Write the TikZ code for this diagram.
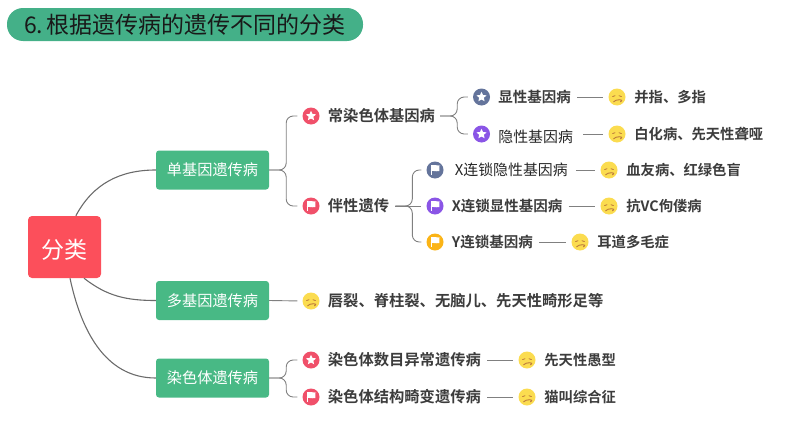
\documentclass[tikz,border=0pt]{standalone}
\usepackage{fontspec}
\usepackage{xcolor}
\usepackage{tikz}
\usetikzlibrary{positioning,shapes.geometric}
\setmainfont{Noto Sans CJK SC}
\newfontfamily\midfont{Noto Sans CJK SC Bold}
\definecolor{titlegreen}{HTML}{44B088}
\definecolor{boxgreen}{HTML}{48B985}
\definecolor{rootred}{HTML}{FC4F5B}
\definecolor{iconred}{HTML}{F0506A}
\definecolor{iconblue}{HTML}{64749B}
\definecolor{iconpurple}{HTML}{8A55E6}
\definecolor{iconamber}{HTML}{FBB416}
\definecolor{sadyellow}{HTML}{FBDC50}
\definecolor{sadbrown}{HTML}{BC7A3C}
\definecolor{inktext}{HTML}{3C3C3C}
\begin{document}
\begin{tikzpicture}[
  x=1pt, y=-1pt,
  titlebar/.style={rectangle, rounded corners=16pt, fill=titlegreen, minimum width=356pt, minimum height=33pt, inner sep=0pt, text=black!90, font=\fontsize{23}{26}\selectfont},
  rootbox/.style={rectangle, rounded corners=4pt, fill=rootred, minimum width=73pt, minimum height=62pt, inner sep=0pt, text=white, font=\fontsize{23}{26}\selectfont},
  catbox/.style={rectangle, rounded corners=3pt, fill=boxgreen, minimum width=113pt, minimum height=39pt, inner sep=0pt, text=white, font=\fontsize{15.2}{18}\selectfont},
  lbl/.style={inner sep=0pt, text=inktext, font=\fontsize{15.3}{18}\midfont},
  lblsub/.style={inner sep=0pt, text=inktext, font=\fontsize{14.5}{18}\midfont},
  lbldesc/.style={inner sep=0pt, text=inktext, font=\fontsize{14.3}{18}\midfont},
  lblthin/.style={inner sep=0pt, text=black!85, font=\fontsize{14.9}{18}\selectfont},
  ico/.style={circle, fill=#1, minimum size=17pt, inner sep=0pt},
  staricon/.style={ico=#1, path picture={
    \node[star, star points=5, star point ratio=2.1, fill=white, minimum size=10.5pt, inner sep=0pt] at (path picture bounding box.center) {};}},
  flagicon/.style={ico=#1, path picture={
    \fill[white] ([shift={(-4.2,-4.8)}]path picture bounding box.center) rectangle ++(1.2,10);
    \fill[white] ([shift={(-3.2,-4.8)}]path picture bounding box.center) .. controls ++(2.5,-0.8) and ++(4.5,1.2) .. ++(7.6,0.2) -- ++(0,5.6) .. controls ++(-3,1) and ++(-5,-1) .. ++(-7.6,-0.2) -- cycle;}},
  sadicon/.style={ico=sadyellow, path picture={
    \draw[sadbrown, line width=0.8pt, line cap=round] ([shift={(-4.4,-0.4)}]path picture bounding box.center) -- ++(2.4,-0.9);
    \draw[sadbrown, line width=0.8pt, line cap=round] ([shift={(4.4,-0.4)}]path picture bounding box.center) -- ++(-2.4,-0.9);
    \draw[sadbrown, line width=0.9pt, line cap=round] ([shift={(-3.4,4.8)}]path picture bounding box.center) .. controls ++(1.8,-2.8) and ++(5,-2.8) .. ++(6.8,0);}},
  rootlink/.style={draw=black!58, line width=1.1pt},
  lnk/.style={draw=black!50, line width=0.9pt},
  brk/.style={lnk, rounded corners=7pt, shorten >=5pt}
]
\useasboundingbox (0,0) rectangle (794,447);
\node[titlebar] (title) at (185,24.5) {6.\,根据遗传病的遗传不同的分类};
\node[rootbox] (root) at (64.5,247) {\raisebox{-11pt}[0pt][0pt]{分类}};

\node[catbox] (mono) at (212.5,170) {单基因遗传病};
\node[catbox] (poly) at (212.5,300.5) {多基因遗传病};
\node[catbox] (chrom) at (212.5,378) {染色体遗传病};
\draw[rootlink] (root.70) to[out=62,in=180] (mono.west);
\draw[rootlink] (root.-58) to[out=-38,in=180] (poly.west);
\draw[rootlink] (root.-80) to[out=-78,in=180] (chrom.west);

% single gene branch
\node[staricon=iconred] (auto) at (311,116) {};
\node[lbl, right=8pt of auto] (autot) {常染色体基因病};
\node[flagicon=iconred] (sex) at (311,206) {};
\node[lbl, right=8pt of sex] (sext) {伴性遗传};
\draw[brk] (mono.east) -- ++(17,0) |- (auto.west);
\draw[brk] (mono.east) -- ++(17,0) |- (sex.west);

\node[staricon=iconblue] (dom) at (481.5,97) {};
\node[lblsub, right=8pt of dom] (domt) {显性基因病};
\node[staricon=iconpurple] (rec) at (481.5,134) {};
\node[lblthin, right=8pt of rec, yshift=-3pt] (rect) {隐性基因病};
\draw[brk] (autot.east) ++(5,0) -- ++(17,0) |- (dom.west);
\draw[brk] (autot.east) ++(5,0) -- ++(17,0) |- (rec.west);

\node[sadicon] (doms) at (617,97) {};
\node[lbldesc, right=8.5pt of doms] (domd) {并指、多指};
\node[sadicon] (recs) at (617,134) {};
\node[lbldesc, right=8.5pt of recs] (recd) {白化病、先天性聋哑};
\draw[lnk, shorten <=6pt, shorten >=5pt] (domt.east) -- (doms.west);
\draw[lnk, shorten >=5pt] (recs.west) ++(-25,0) -- (recs.west);

% sex linked branch
\node[flagicon=iconblue] (xr) at (435,170) {};
\node[lblthin, right=11pt of xr] (xrt) {X连锁隐性基因病};
\node[flagicon=iconpurple] (xd) at (435,206) {};
\node[lblsub, right=8pt of xd] (xdt) {X连锁显性基因病};
\node[flagicon=iconamber] (yl) at (435,242) {};
\node[lblsub, right=8pt of yl] (ylt) {Y连锁基因病};
\draw[brk] (sext.east) ++(6,0) -- ++(17,0) |- (xr.west);
\draw[lnk, shorten >=5pt, shorten <=6pt] (sext.east) -- (xd.west);
\draw[brk] (sext.east) ++(6,0) -- ++(17,0) |- (yl.west);

\node[sadicon] (xrs) at (609,170) {};
\node[lbldesc, right=8.5pt of xrs] (xrd) {血友病、红绿色盲};
\node[sadicon] (xds) at (609,206) {};
\node[lbldesc, right=8.5pt of xds] (xdd) {抗VC佝偻病};
\node[sadicon] (yls) at (580,242) {};
\node[lbldesc, right=8.5pt of yls] (yld) {耳道多毛症};
\draw[lnk, shorten <=8pt, shorten >=5pt] (xrt.east) -- (xrs.west);
\draw[lnk, shorten <=6pt, shorten >=5pt] (xdt.east) -- (xds.west);
\draw[lnk, shorten <=6pt, shorten >=5pt] (ylt.east) -- (yls.west);

% polygenic branch
\node[sadicon] (polys) at (311,301) {};
\node[lbl, right=8pt of polys] (polyd) {唇裂、脊柱裂、无脑儿、先天性畸形足等};
\draw[lnk, shorten >=5pt] (poly.east) -- (polys.west);

% chromosome branch
\node[staricon=iconred] (num) at (311,360) {};
\node[lbl, right=8pt of num] (numt) {染色体数目异常遗传病};
\node[flagicon=iconred] (stc) at (311,397) {};
\node[lbl, right=8pt of stc] (stct) {染色体结构畸变遗传病};
\draw[brk] (chrom.east) -- ++(17,0) |- (num.west);
\draw[brk] (chrom.east) -- ++(17,0) |- (stc.west);

\node[sadicon] (nums) at (527,360) {};
\node[lbldesc, right=8.5pt of nums] (numd) {先天性愚型};
\node[sadicon] (stcs) at (527,397) {};
\node[lbldesc, right=8.5pt of stcs] (stcd) {猫叫综合征};
\draw[lnk, shorten <=6pt, shorten >=5pt] (numt.east) -- (nums.west);
\draw[lnk, shorten <=6pt, shorten >=5pt] (stct.east) -- (stcs.west);
\end{tikzpicture}
\end{document}
